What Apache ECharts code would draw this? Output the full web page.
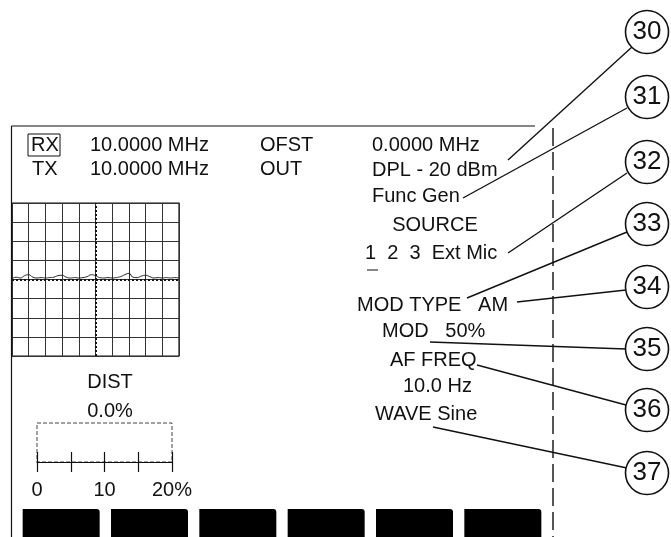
<!DOCTYPE html>
<html>
<head>
<meta charset="utf-8">
<script src="https://cdn.jsdelivr.net/npm/echarts@6/dist/echarts.min.js"></script>
<style>
  html, body { margin: 0; padding: 0; background: #fff; }
  #chart { width: 671px; height: 537px; }
</style>
</head>
<body>
<div id="chart"></div>
<script>
// scope trace, one value every quarter division (divisions above centre line)
const traceValues = [0.05, 0.12, 0.08, 0.2, 0.25, 0.12, 0.08, 0.1, 0.08, 0.1, 0.12,
  0.2, 0.22, 0.12, 0.08, 0.1, 0.08, 0.1, 0.15, 0.25, 0.2, 0.1, 0.08, 0.1, 0.08,
  0.1, 0.15, 0.25, 0.32, 0.12, 0.1, 0.18, 0.22, 0.15, 0.08, 0.1, 0.08, 0.1, 0.08,
  0.1, 0.08]
// DIST meter scale
const distTicks = ['0', '10', '20%']
const distValue = 0.0
// soft keys along the bottom
const softKeys = ['', '', '', '', '', '']
// callout numbers
const callouts = ['30', '31', '32', '33', '34', '35', '36', '37']

// layout of the callouts (page pixels)
const calloutY = [32, 97, 162, 224, 287, 349, 410, 473]
const leaderFrom = [[508, 160], [463, 198], [508, 253], [467, 298], [517, 302], [430, 342], [477, 365], [433, 427]]
const leaderTo = [[632, 47], [627, 108], [627, 173], [627, 232], [626, 290], [626, 349], [626, 405], [627, 468]]

const FONT = '"Liberation Sans", Arial, sans-serif'
const ink = '#111'

function txt(text, x, y, align) {
  return {
    type: 'text', x: x, y: y, z: 20,
    style: { text: text, font: '20px ' + FONT, fill: ink, textAlign: align || 'left', textVerticalAlign: 'middle' }
  }
}
function seg(x1, y1, x2, y2, w, dash) {
  return {
    type: 'line', z: 5,
    shape: { x1: x1, y1: y1, x2: x2, y2: y2 },
    style: { stroke: ink, lineWidth: w || 1.2, lineDash: dash || null }
  }
}

const chart = echarts.init(document.getElementById('chart'))

const option = {
  animation: false,
  backgroundColor: '#fff',
  grid: [
    // 0: whole page, for callouts
    { left: 0, top: 0, width: 671, height: 537 },
    // 1: scope graticule
    { left: 12, top: 203, width: 167, height: 153, show: true, borderColor: ink, borderWidth: 1.2 },
    // 2: DIST meter
    { left: 37, top: 423, width: 135, height: 39, show: true, borderColor: '#444', borderWidth: 1, borderType: 'dashed' },
    // 3: soft keys
    { left: 17, top: 509, width: 530, height: 28 }
  ],
  xAxis: [
    { gridIndex: 0, type: 'value', min: 0, max: 671, show: false },
    {
      gridIndex: 1, type: 'value', min: 0, max: 10, interval: 1,
      axisLine: { show: false }, axisTick: { show: false }, axisLabel: { show: false },
      splitLine: { show: true, lineStyle: { color: '#333', width: 1 } }
    },
    {
      gridIndex: 2, type: 'value', min: 0, max: 20, interval: 5, position: 'bottom',
      axisLine: { show: true, lineStyle: { color: ink, width: 1.2 } },
      axisTick: { show: true, length: 10, lineStyle: { color: ink, width: 1.2 } },
      axisLabel: {
        show: true, margin: 18, fontSize: 20, fontFamily: FONT, color: ink,
        formatter: v => (v % 10 === 0 ? distTicks[v / 10] : '')
      },
      splitLine: { show: false }
    },
    {
      gridIndex: 2, type: 'value', min: 0, max: 20, interval: 5, position: 'bottom',
      axisLine: { show: false },
      axisTick: { show: true, inside: true, length: 10, lineStyle: { color: ink, width: 1.2 } },
      axisLabel: { show: false }, splitLine: { show: false }
    },
    { gridIndex: 3, type: 'category', data: softKeys.map((k, i) => 'F' + (i + 1)), show: false }
  ],
  yAxis: [
    { gridIndex: 0, type: 'value', min: 0, max: 537, inverse: true, show: false },
    {
      gridIndex: 1, type: 'value', min: -4, max: 4, interval: 1,
      axisLine: { show: false }, axisTick: { show: false }, axisLabel: { show: false },
      splitLine: { show: true, lineStyle: { color: '#333', width: 1 } }
    },
    { gridIndex: 2, type: 'value', min: 0, max: 1, show: false },
    { gridIndex: 3, type: 'value', min: 0, max: 1, show: false }
  ],
  series: [
    {
      name: 'trace', type: 'line', xAxisIndex: 1, yAxisIndex: 1,
      data: traceValues.map((v, i) => [i * 0.25, v]),
      showSymbol: false, smooth: true,
      lineStyle: { color: '#222', width: 1 },
      markLine: {
        silent: true, symbol: 'none', label: { show: false },
        lineStyle: { color: ink, type: 'dotted', width: 2 },
        data: [{ xAxis: 5 }, { yAxis: 0 }]
      },
      z: 4
    },
    {
      name: 'dist', type: 'bar', xAxisIndex: 2, yAxisIndex: 2,
      data: [[distValue, 0]], barWidth: 0
    },
    {
      name: 'keys', type: 'bar', xAxisIndex: 4, yAxisIndex: 3,
      data: softKeys.map(() => 1), barWidth: 77,
      itemStyle: { color: '#000', borderRadius: [0, 3, 0, 0] }
    },
    {
      name: 'leaders', type: 'lines', coordinateSystem: 'cartesian2d', xAxisIndex: 0, yAxisIndex: 0,
      data: callouts.map((c, i) => ({ coords: [leaderFrom[i], leaderTo[i]] })),
      lineStyle: { color: ink, width: 1.4, opacity: 1 },
      z: 6
    },
    {
      name: 'callouts', type: 'scatter', xAxisIndex: 0, yAxisIndex: 0,
      data: callouts.map((c, i) => ({ value: [647, calloutY[i]], name: c })),
      symbol: 'circle', symbolSize: 43,
      itemStyle: { color: '#fff', borderColor: ink, borderWidth: 1.6, opacity: 1 },
      label: {
        show: true, position: 'inside', formatter: p => p.name,
        fontSize: 26, fontFamily: FONT, color: ink
      },
      z: 8
    }
  ],
  graphic: [
    // screen frame
    seg(11.5, 126, 535, 126, 1.2),
    seg(11.5, 126, 11.5, 537, 1.2),
    seg(553, 128, 553, 537, 1.4, [18, 6]),
    // RX highlight box
    { type: 'rect', z: 5, shape: { x: 28, y: 134, width: 32, height: 22 }, style: { fill: null, stroke: ink, lineWidth: 1 } },
    txt('RX', 31, 145),
    txt('10.0000 MHz', 90, 145),
    txt('OFST', 260, 145),
    txt('0.0000 MHz', 372, 145),
    txt('TX', 32, 169),
    txt('10.0000 MHz', 90, 169),
    txt('OUT', 260, 169),
    txt('DPL - 20 dBm', 372, 170),
    txt('Func Gen', 372, 196),
    txt('SOURCE', 435, 225, 'center'),
    txt('1  2  3  Ext Mic', 365, 253),
    seg(367, 270, 378, 270, 1),
    txt('MOD TYPE   AM', 357, 305),
    txt('MOD   50%', 382, 331),
    txt('AF FREQ', 390, 360),
    txt('10.0 Hz', 403, 386),
    txt('WAVE Sine', 375, 414),
    txt('DIST', 110, 382, 'center'),
    txt(distValue.toFixed(1) + '%', 110, 411, 'center')
  ]
}

chart.setOption(option)
</script>
</body>
</html>
